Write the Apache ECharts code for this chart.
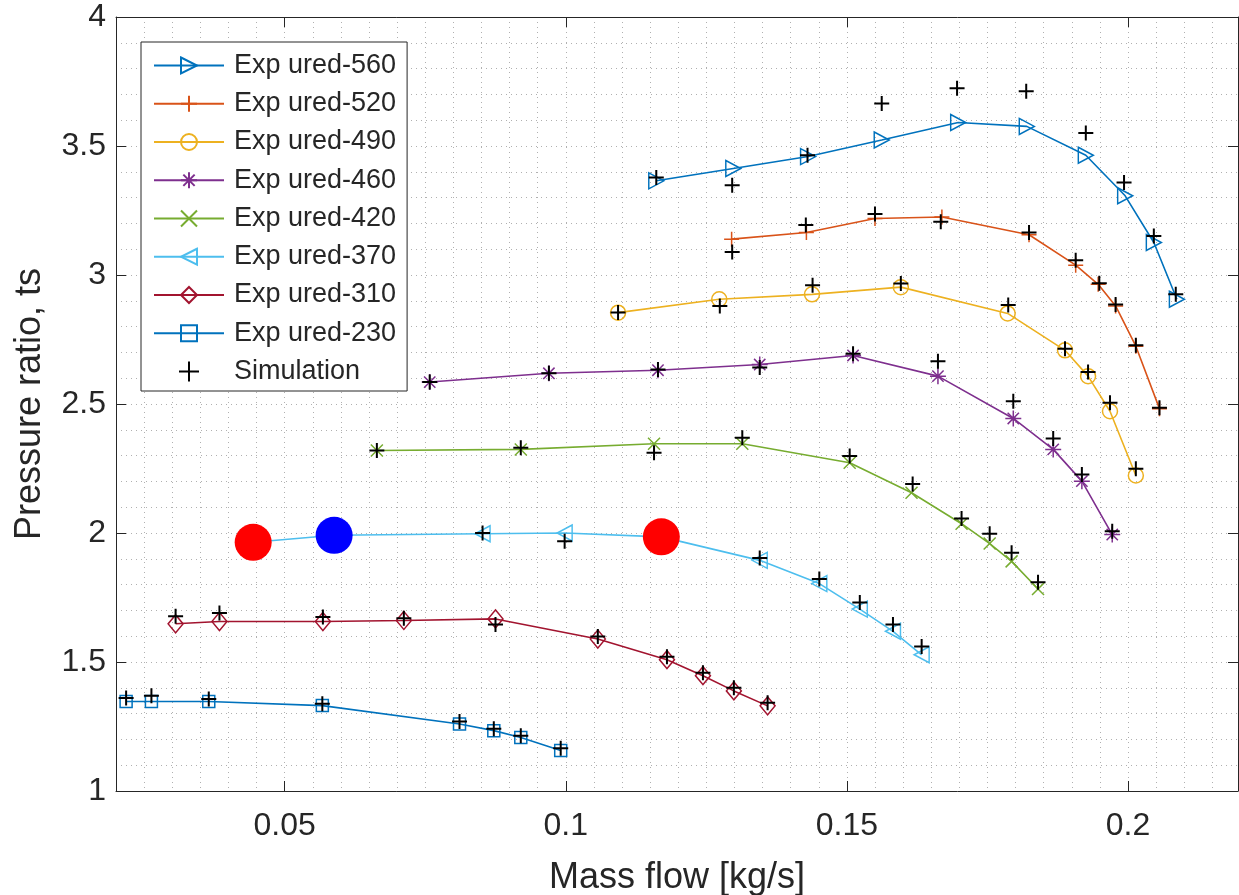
<!DOCTYPE html>
<html><head><meta charset="utf-8">
<script src="https://cdn.jsdelivr.net/npm/echarts@6/dist/echarts.min.js"></script>
<style>html,body{margin:0;padding:0;background:#fff}#c{width:1239px;height:895px}</style>
</head><body><div id="c"></div>
<script>
const xTicks = [0.05, 0.1, 0.15, 0.2];
const yTicks = [1, 1.5, 2, 2.5, 3, 3.5, 4];
const seriesNames = ['Exp ured-560','Exp ured-520','Exp ured-490','Exp ured-460','Exp ured-420','Exp ured-370','Exp ured-310','Exp ured-230'];

const exp560 = [[0.1161,3.365],[0.1298,3.413],[0.1431,3.459],[0.1562,3.523],[0.1698,3.591],[0.1820,3.576],[0.1925,3.464],[0.1995,3.307],[0.2046,3.126],[0.2087,2.906]];
const exp520 = [[0.1295,3.139],[0.1428,3.165],[0.1550,3.219],[0.1669,3.225],[0.1824,3.156],[0.1907,3.038],[0.1947,2.964],[0.1978,2.880],[0.2014,2.724],[0.2056,2.482]];
const exp490 = [[0.1093,2.854],[0.1273,2.906],[0.1438,2.925],[0.1596,2.953],[0.1786,2.851],[0.1888,2.708],[0.1929,2.608],[0.1968,2.472],[0.2014,2.223]];
const exp460 = [[0.0758,2.585],[0.0970,2.619],[0.1164,2.631],[0.1345,2.653],[0.1511,2.688],[0.1662,2.608],[0.1796,2.444],[0.1867,2.324],[0.1918,2.201],[0.1972,1.994]];
const exp420 = [[0.0664,2.320],[0.0920,2.324],[0.1157,2.346],[0.1314,2.346],[0.1505,2.272],[0.1615,2.156],[0.1704,2.036],[0.1754,1.959],[0.1793,1.890],[0.1840,1.783]];
const exp370 = [[0.0444,1.964],[0.0588,1.991],[0.0852,1.997],[0.0998,2.000],[0.1170,1.985],[0.1345,1.894],[0.1451,1.804],[0.1523,1.705],[0.1582,1.619],[0.1633,1.528]];
const exp310 = [[0.0306,1.648],[0.0384,1.657],[0.0568,1.657],[0.0712,1.661],[0.0875,1.667],[0.1057,1.589],[0.1180,1.509],[0.1244,1.447],[0.1299,1.388],[0.1359,1.330]];
const exp230 = [[0.0218,1.347],[0.0263,1.347],[0.0365,1.347],[0.0567,1.331],[0.0811,1.260],[0.0872,1.234],[0.0920,1.207],[0.0991,1.157]];

const sim560 = [[0.1161,3.378],[0.1296,3.348],[0.1430,3.464],[0.1562,3.665],[0.1696,3.724],[0.1819,3.712],[0.1925,3.550],[0.1993,3.359],[0.2046,3.151],[0.2085,2.925]];
const sim520 = [[0.1296,3.089],[0.1427,3.194],[0.1550,3.236],[0.1667,3.206],[0.1824,3.165],[0.1907,3.057],[0.1949,2.968],[0.1978,2.886],[0.2014,2.728],[0.2056,2.485]];
const sim490 = [[0.1093,2.855],[0.1274,2.880],[0.1439,2.960],[0.1596,2.967],[0.1787,2.884],[0.1888,2.714],[0.1929,2.624],[0.1968,2.505],[0.2014,2.249]];
const sim460 = [[0.0758,2.585],[0.0970,2.619],[0.1164,2.634],[0.1345,2.641],[0.1511,2.695],[0.1662,2.666],[0.1796,2.511],[0.1867,2.366],[0.1918,2.227],[0.1972,2.007]];
const sim420 = [[0.0664,2.320],[0.0920,2.330],[0.1157,2.311],[0.1314,2.369],[0.1505,2.298],[0.1617,2.190],[0.1704,2.056],[0.1754,1.997],[0.1793,1.923],[0.1840,1.809]];
const sim370 = [[0.0852,2.000],[0.0998,1.968],[0.1345,1.903],[0.1451,1.822],[0.1523,1.731],[0.1582,1.645],[0.1633,1.560]];
const sim310 = [[0.0306,1.677],[0.0384,1.690],[0.0568,1.674],[0.0712,1.670],[0.0875,1.645],[0.1057,1.599],[0.1180,1.520],[0.1244,1.458],[0.1299,1.400],[0.1359,1.342]];
const sim230 = [[0.0218,1.360],[0.0263,1.369],[0.0365,1.357],[0.0567,1.338],[0.0811,1.269],[0.0872,1.241],[0.0920,1.214],[0.0991,1.166]];

const redDots = [[0.0444,1.964],[0.1170,1.985]];
const blueDots = [[0.0588,1.991]];

const colors = ['#0072BD','#D95319','#EDB120','#7E2F8E','#77AC30','#4DBEEE','#A2142F','#0072BD'];
const symbols = [
  'path://M-8,-8L8,0L-8,8Z',
  'path://M0,-10L0,10M-10,0L10,0',
  'circle',
  'path://M0,-10L0,10M-10,0L10,0M-7.07,-7.07L7.07,7.07M-7.07,7.07L7.07,-7.07',
  'path://M-7,-7L7,7M-7,7L7,-7',
  'path://M8,-8L-8,0L8,8Z',
  'diamond',
  'rect'
];
const symSizes = [[15,16],[15,15],[15,15],[16,16],[12,12],[15,16],[15,18],[12,12]];
const expData = [exp560, exp520, exp490, exp460, exp420, exp370, exp310, exp230];
const simData = [].concat(sim560, sim520, sim490, sim460, sim420, sim370, sim310, sim230);

const FONT = 'Liberation Sans, Arial, Helvetica, sans-serif';
const TXT = '#262626';
const GRID = '#b0b0b0';
const fmt = v => String(Math.round(v * 1000) / 1000);

const series = expData.map((d, i) => ({
  name: seriesNames[i],
  type: 'line',
  data: d,
  symbol: symbols[i],
  symbolSize: symSizes[i],
  showAllSymbol: true,
  lineStyle: { color: colors[i], width: 1.6 },
  itemStyle: { color: 'rgba(0,0,0,0)', borderColor: colors[i], borderWidth: 1.5 },
  emphasis: { disabled: true },
  animation: false,
  z: 2
}));
series.push({
  name: 'Simulation',
  type: 'scatter',
  data: simData,
  symbol: 'path://M0,-10L0,10M-10,0L10,0',
  symbolSize: 15,
  symbolKeepAspect: true,
  itemStyle: { color: 'rgba(0,0,0,0)', borderColor: '#000', borderWidth: 2, opacity: 1 },
  emphasis: { disabled: true },
  animation: false,
  z: 3
});
series.push({
  name: 'redDots', type: 'scatter', data: redDots, symbol: 'circle', symbolSize: 37,
  itemStyle: { color: '#ff0000', opacity: 1 }, emphasis: { disabled: true }, animation: false, z: 5
});
series.push({
  name: 'blueDots', type: 'scatter', data: blueDots, symbol: 'circle', symbolSize: 37,
  itemStyle: { color: '#0000ff', opacity: 1 }, emphasis: { disabled: true }, animation: false, z: 5
});

const xBase = { type: 'value', min: 0.02, max: 0.21957, interval: 0.005 };
const yBase = { type: 'value', min: 1, max: 4, interval: 0.1 };
const tickStyle = { show: true, inside: true, length: 10, lineStyle: { color: TXT } };
const lineStyleAxis = { show: true, onZero: false, lineStyle: { color: TXT, width: 1 } };
const gridOnly = {
  axisLine: { show: false }, axisTick: { show: false }, axisLabel: { show: false },
  splitLine: { show: true, lineStyle: { color: GRID, width: 1, type: [1, 4] } }
};

const option = {
  backgroundColor: '#fff',
  animation: false,
  grid: { left: 116, right: 1, top: 17, bottom: 104, outerBoundsMode: 'none', containLabel: false },
  legend: {
    data: seriesNames.concat(['Simulation']),
    orient: 'vertical',
    left: 141, top: 42,
    itemWidth: 70, itemHeight: 20, itemGap: 11.25,
    padding: [10, 11, 6, 12],
    backgroundColor: '#fff',
    borderColor: '#262626', borderWidth: 1, borderRadius: 0,
    textStyle: { fontFamily: FONT, fontSize: 27, color: TXT, padding: [0, 0, 0, 5] },
    selectedMode: false
  },
  xAxis: [
    Object.assign({}, xBase, {
      position: 'bottom',
      name: 'Mass flow [kg/s]', nameLocation: 'middle', nameGap: 69,
      nameTextStyle: { fontFamily: FONT, fontSize: 36, color: TXT },
      axisLine: lineStyleAxis,
      axisTick: Object.assign({ customValues: xTicks }, tickStyle),
      axisLabel: { show: true, customValues: xTicks, margin: 19, formatter: fmt, fontFamily: FONT, fontSize: 32, color: TXT },
      splitLine: { show: false }
    }),
    Object.assign({}, xBase, {
      position: 'top',
      axisLine: lineStyleAxis,
      axisTick: Object.assign({ customValues: xTicks }, tickStyle),
      axisLabel: { show: false },
      splitLine: { show: false }
    }),
    Object.assign({}, xBase, { position: 'bottom' }, gridOnly)
  ],
  yAxis: [
    Object.assign({}, yBase, {
      position: 'left',
      name: 'Pressure ratio, ts', nameLocation: 'middle', nameGap: 68,
      nameTextStyle: { fontFamily: FONT, fontSize: 36, color: TXT },
      axisLine: lineStyleAxis,
      axisTick: Object.assign({ customValues: yTicks }, tickStyle),
      axisLabel: { show: true, customValues: yTicks, margin: 10, formatter: fmt, fontFamily: FONT, fontSize: 32, color: TXT },
      splitLine: { show: false }
    }),
    Object.assign({}, yBase, {
      position: 'right',
      axisLine: lineStyleAxis,
      axisTick: Object.assign({ customValues: yTicks }, tickStyle),
      axisLabel: { show: false },
      splitLine: { show: false }
    }),
    Object.assign({}, yBase, { position: 'left' }, gridOnly)
  ],
  series: series
};

const chart = echarts.init(document.getElementById('c'), null, { renderer: 'canvas' });
chart.setOption(option);
</script>
</body></html>
